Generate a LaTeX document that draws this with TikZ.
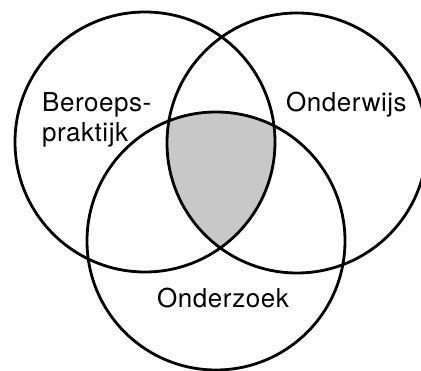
\documentclass[tikz,border=0pt]{standalone}
\usepackage{fontspec}
\setmainfont[LetterSpace=2]{TeX Gyre Heros}
\definecolor{venngray}{RGB}{199,200,199}
\begin{document}
\begin{tikzpicture}[x=1pt,y=1pt,
  ring/.style={draw=black,line width=2.8pt},
  txt/.style={inner sep=0pt,font=\fontsize{26}{30}\selectfont}]
\useasboundingbox (0,0) rectangle (421,371);
\clip (0,0) rectangle (421,371);
\coordinate (cL) at (145,229);
\coordinate (cR) at (297,228);
\coordinate (cB) at (216,130);
\begin{scope}
  \clip (cL) circle[radius=130];
  \clip (cR) circle[radius=130];
  \fill[venngray] (cB) circle[radius=129];
\end{scope}
\draw[ring] (cL) circle[radius=130];
\draw[ring] (cR) circle[radius=130];
\draw[ring] (cB) circle[radius=129];
\node[txt,anchor=base west,align=left] (tBP) at (42,229) {Beroeps-\\praktijk};
\node[txt,anchor=base west] (tOW) at (286,259) {Onderwijs};
\node[txt,anchor=base west] (tOZ) at (157,63) {Onderzoek};
\end{tikzpicture}
\end{document}
